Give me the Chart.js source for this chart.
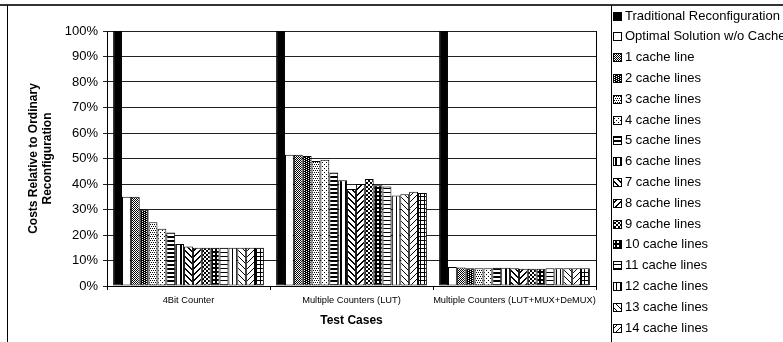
<!DOCTYPE html>
<html>
<head>
<meta charset="utf-8">
<script src="https://cdn.jsdelivr.net/npm/chart.js@4/dist/chart.umd.min.js"></script>
<style>
  html, body { margin: 0; padding: 0; background: #fff; overflow: hidden; }
  #wrap { position: relative; width: 783px; height: 342px; }
</style>
</head>
<body>
<div id="wrap"><canvas id="c" width="783" height="342"></canvas></div>
<script>
// Test cases on the x axis
const categories = ['4Bit Counter', 'Multiple Counters (LUT)', 'Multiple Counters (LUT+MUX+DeMUX)'];

// One series per reconfiguration strategy
const seriesNames = [
  'Traditional Reconfiguration', 'Optimal Solution w/o Cache',
  '1 cache line', '2 cache lines', '3 cache lines', '4 cache lines', '5 cache lines',
  '6 cache lines', '7 cache lines', '8 cache lines', '9 cache lines', '10 cache lines',
  '11 cache lines', '12 cache lines', '13 cache lines', '14 cache lines', '15 cache lines'
];

// Costs relative to ordinary reconfiguration (%), in series order
const counter4Bit         = [100, 35, 35, 30, 25, 22.5, 21, 16.5, 15.5, 15, 15, 15, 15, 15, 15, 15, 15];
const countersLUT         = [100, 51.5, 51.5, 51, 49, 49.5, 44.5, 41.5, 38, 40, 42, 39.5, 39, 35.5, 36, 37, 36.5];
const countersLUTMuxDemux = [100, 7.5, 7.3, 7, 7, 7, 7.2, 7.2, 7, 6.8, 6.8, 6.8, 7, 7, 7, 7, 7];

const yTickValues = [0, 10, 20, 30, 40, 50, 60, 70, 80, 90, 100];

const FONT = "'Liberation Sans', Arial, sans-serif";

// ---- monochrome fill patterns ----
function tile(w, h, draw) {
  const c = document.createElement('canvas');
  c.width = w; c.height = h;
  const g = c.getContext('2d');
  g.fillStyle = '#fff'; g.fillRect(0, 0, w, h);
  g.fillStyle = '#000';
  draw(g, w, h);
  return c;
}
const px = (g, x, y, w = 1, h = 1) => g.fillRect(x, y, w, h);
const ctx0 = document.getElementById('c').getContext('2d');
const pat = (c) => ctx0.createPattern(c, 'repeat');

const fills = [
  '#000',
  '#fff',
  pat(tile(2, 2, g => { px(g, 0, 0); px(g, 1, 1); })),                                  // fine checker
  pat(tile(4, 2, g => { g.fillRect(0, 0, 4, 2); g.fillStyle = '#fff'; px(g, 0, 0); px(g, 2, 1); })), // dark dots
  pat(tile(4, 4, g => { px(g, 0, 0); px(g, 2, 0); px(g, 1, 2); px(g, 3, 2); })),          // 25% dots
  pat(tile(4, 4, g => { px(g, 0, 0); px(g, 2, 2); })),                                  // sparse dots
  pat(tile(1, 4, g => { px(g, 0, 0, 1, 2); })),                                         // wide horizontal
  pat(tile(5, 1, g => { px(g, 0, 0, 2, 1); })),                                         // wide vertical
  pat(tile(6, 6, g => { for (let i = 0; i < 6; i++) { px(g, i, i); px(g, (i + 1) % 6, i); } })),      // wide down diagonal
  pat(tile(6, 6, g => { for (let i = 0; i < 6; i++) { px(g, 5 - i, i); px(g, (6 - i) % 6, i); } })),  // wide up diagonal
  pat(tile(4, 4, g => { px(g, 0, 0, 2, 2); px(g, 2, 2, 2, 2); })),                      // large checker
  pat(tile(4, 4, g => { g.fillRect(0, 0, 4, 4); g.fillStyle = '#fff'; px(g, 1, 1, 2, 2); })),         // confetti
  pat(tile(1, 4, g => { px(g, 0, 0); })),                                              // narrow horizontal
  pat(tile(4, 1, g => { px(g, 0, 0); })),                                              // narrow vertical
  pat(tile(6, 6, g => { for (let i = 0; i < 6; i++) px(g, i, i); })),                   // down diagonal
  pat(tile(6, 6, g => { for (let i = 0; i < 6; i++) px(g, 5 - i, i); })),               // up diagonal
  pat(tile(4, 4, g => { px(g, 0, 0, 4, 1); px(g, 0, 0, 1, 4); }))                       // grid
];

const datasets = seriesNames.map((name, i) => ({
  label: name,
  data: [counter4Bit[i], countersLUT[i], countersLUTMuxDemux[i]],
  backgroundColor: fills[i],
  borderColor: '#000',
  borderWidth: 1,
  borderSkipped: false,
  categoryPercentage: 0.925,
  barPercentage: 1
}));

// Frame lines, plot border and the legend column
const framePlugin = {
  id: 'frame',
  afterDraw(chart) {
    const { ctx, chartArea: a } = chart;
    ctx.save();
    ctx.strokeStyle = '#000';
    ctx.lineWidth = 1;
    ctx.beginPath();
    ctx.moveTo(a.right + 0.5, a.top); ctx.lineTo(a.right + 0.5, a.bottom);
    ctx.stroke();

    ctx.strokeStyle = '#333';
    ctx.lineWidth = 2;
    ctx.beginPath(); ctx.moveTo(0, 5); ctx.lineTo(783, 5); ctx.stroke();
    ctx.strokeStyle = '#000';
    ctx.lineWidth = 1;
    ctx.beginPath(); ctx.moveTo(7.5, 5); ctx.lineTo(7.5, 342); ctx.stroke();
    ctx.beginPath(); ctx.moveTo(611.5, 5); ctx.lineTo(611.5, 342); ctx.stroke();

    // legend
    ctx.font = '13px ' + FONT;
    ctx.textBaseline = 'middle';
    ctx.textAlign = 'left';
    chart.data.datasets.forEach((ds, i) => {
      const cy = 15.5 + i * 20.8;
      const bx = 613.5, by = Math.round(cy - 4) + 0.5;
      ctx.fillStyle = ds.backgroundColor;
      ctx.fillRect(bx, by, 8, 8);
      ctx.strokeStyle = '#000';
      ctx.lineWidth = 1;
      ctx.strokeRect(bx, by, 8, 8);
      ctx.fillStyle = '#000';
      ctx.fillText(ds.label, 625, cy + 0.5);
    });
    ctx.restore();
  }
};

new Chart(document.getElementById('c'), {
  type: 'bar',
  data: { labels: categories, datasets },
  options: {
    responsive: false,
    animation: false,
    devicePixelRatio: 1,
    layout: { padding: { left: 22, top: 31, right: 783 - 596, bottom: 0 } },
    plugins: { legend: { display: false }, tooltip: { enabled: false } },
    scales: {
      x: {
        afterFit: s => { s.height = 56; },
        grid: { display: true, drawOnChartArea: false, drawTicks: true, tickLength: 4, color: '#000', offset: true },
        border: { color: '#000', width: 1 },
        ticks: { color: '#000', font: { family: FONT, size: 9.3 }, padding: 5, maxRotation: 0, autoSkip: false },
        title: { display: true, text: 'Test Cases', color: '#000',
                 font: { family: FONT, size: 12, weight: 'bold' }, padding: { top: 0, bottom: 14 } }
      },
      y: {
        min: 0, max: 100,
        afterFit: s => { s.width = 85; },
        afterBuildTicks: s => { s.ticks = yTickValues.map(v => ({ value: v })); },
        grid: { color: '#222', lineWidth: 1, tickLength: 4, drawTicks: true },
        border: { color: '#000', width: 1 },
        ticks: { color: '#000', font: { family: FONT, size: 13 }, padding: 5, callback: v => v + '%' },
        title: { display: true, text: ['Costs Relative to Ordinary', 'Reconfiguration'], color: '#000',
                 font: { family: FONT, size: 12, weight: 'bold' }, padding: { top: 4, bottom: 0 } }
      }
    }
  },
  plugins: [framePlugin]
});
</script>
</body>
</html>
